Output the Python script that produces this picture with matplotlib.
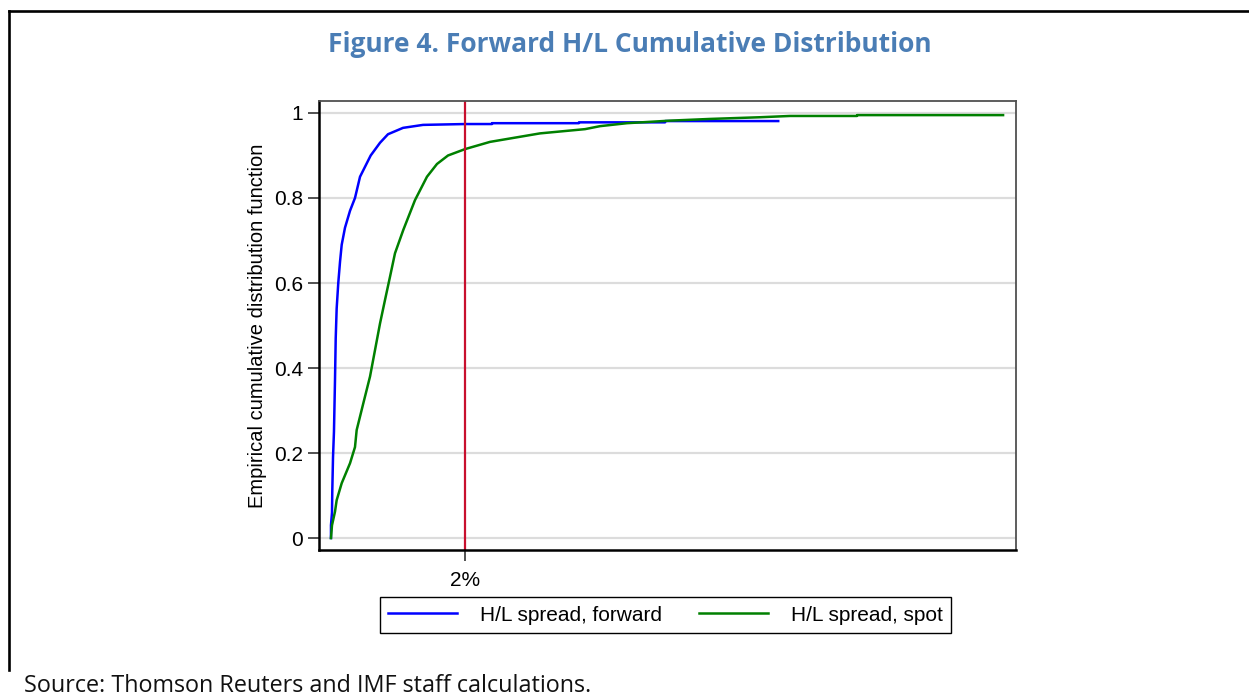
"""
Figure 4: forward vs spot H/L spread, empirical CDF
"""
import matplotlib
matplotlib.use('Agg')
import matplotlib.pyplot as plt
from matplotlib.lines import Line2D

# H/L spread (in percent) and empirical CDF
fwd_x = [0.164, 0.164, 0.178, 0.182, 0.192, 0.205, 0.219, 0.229, 0.242, 0.264,
         0.288, 0.311, 0.356, 0.425, 0.493, 0.562, 0.708, 0.836, 0.945, 1.151,
         1.425, 2.0, 2.37, 2.37, 3.56, 3.56, 4.74, 4.74, 6.29]
fwd_y = [0.0, 0.03, 0.06, 0.11, 0.19, 0.25, 0.37, 0.47, 0.54, 0.60,
         0.65, 0.69, 0.73, 0.77, 0.80, 0.85, 0.90, 0.93, 0.95, 0.965,
         0.972, 0.974, 0.974, 0.976, 0.976, 0.978, 0.978, 0.981, 0.981]

spot_x = [0.164, 0.178, 0.219, 0.242, 0.311, 0.425, 0.493, 0.516, 0.607, 0.699,
          0.767, 0.836, 0.904, 0.973, 1.041, 1.155, 1.315, 1.479, 1.616, 1.767,
          2.0, 2.342, 3.027, 3.644, 3.849, 4.219, 4.808, 5.356, 6.041, 6.452,
          7.37, 7.37, 9.37]
spot_y = [0.0, 0.03, 0.062, 0.089, 0.129, 0.176, 0.214, 0.254, 0.317, 0.38,
          0.442, 0.505, 0.56, 0.615, 0.67, 0.725, 0.795, 0.85, 0.88, 0.90,
          0.915, 0.932, 0.952, 0.962, 0.969, 0.976, 0.982, 0.986, 0.990, 0.993,
          0.993, 0.995, 0.995]

cutoff = 2.0
yticks = [0, 0.2, 0.4, 0.6, 0.8, 1]
ytick_labels = ['0', '0.2', '0.4', '0.6', '0.8', '1']

if __name__ == '__main__':
    plt.rcParams['font.family'] = ['Liberation Sans', 'DejaVu Sans']
    fig = plt.figure(figsize=(12.49, 6.98), dpi=100)
    ax = fig.add_axes([0.2554, 0.2120, 0.5581, 0.6433])

    # grid lines
    for t in yticks:
        ax.axhline(t, color='#dcdcdc', lw=1.6, zorder=0)

    ax.plot(fwd_x, fwd_y, color='#0000ff', lw=1.8, label='H/L spread, forward')
    ax.plot(spot_x, spot_y, color='#008000', lw=1.8, label='H/L spread, spot')
    ax.axvline(cutoff, color='#c8102e', lw=1.6)

    ax.set_xlim(0, 9.548)
    ax.set_ylim(-0.0282, 1.0282)
    ax.set_xticks([cutoff])
    ax.set_xticklabels(['2%'])
    ax.set_yticks(yticks)
    ax.set_yticklabels(ytick_labels)
    ax.tick_params(axis='both', labelsize=15, length=8, width=1.2,
                   direction='out', color='#333333')
    ax.tick_params(axis='x', pad=7)
    ax.set_ylabel('Empirical cumulative distribution function', fontsize=14.5,
                  labelpad=5)

    for side in ['left', 'bottom']:
        ax.spines[side].set_linewidth(1.8)
        ax.spines[side].set_color('black')
    for side in ['top', 'right']:
        ax.spines[side].set_linewidth(1.3)
        ax.spines[side].set_color('#505050')

    leg = fig.legend(loc='center', bbox_to_anchor=(0.5328, 0.1189), ncol=2,
                     fontsize=15, frameon=True, fancybox=False,
                     edgecolor='black', framealpha=1, handlelength=3.3,
                     handletextpad=1.1, columnspacing=1.8, borderpad=0.4)
    leg.get_frame().set_linewidth(1.0)

    fig.text(0.5044, 0.936, 'Figure 4. Forward H/L Cumulative Distribution',
             ha='center', va='center', fontsize=19, fontweight='bold',
             color='#4a7db5', family='Open Sans')
    fig.text(0.0192, 0.009, 'Source: Thomson Reuters and IMF staff calculations.',
             ha='left', va='baseline', fontsize=16.8, color='#111111',
             family='Open Sans')

    # outer frame (top and left edges)
    fig.add_artist(Line2D([0.0072, 1.0], [0.9842, 0.9842], color='black', lw=1.9,
                          transform=fig.transFigure))
    fig.add_artist(Line2D([0.0072, 0.0072], [0.9842, 0.0401], color='black', lw=1.9,
                          transform=fig.transFigure))

    fig.savefig('out.png', dpi=100)
